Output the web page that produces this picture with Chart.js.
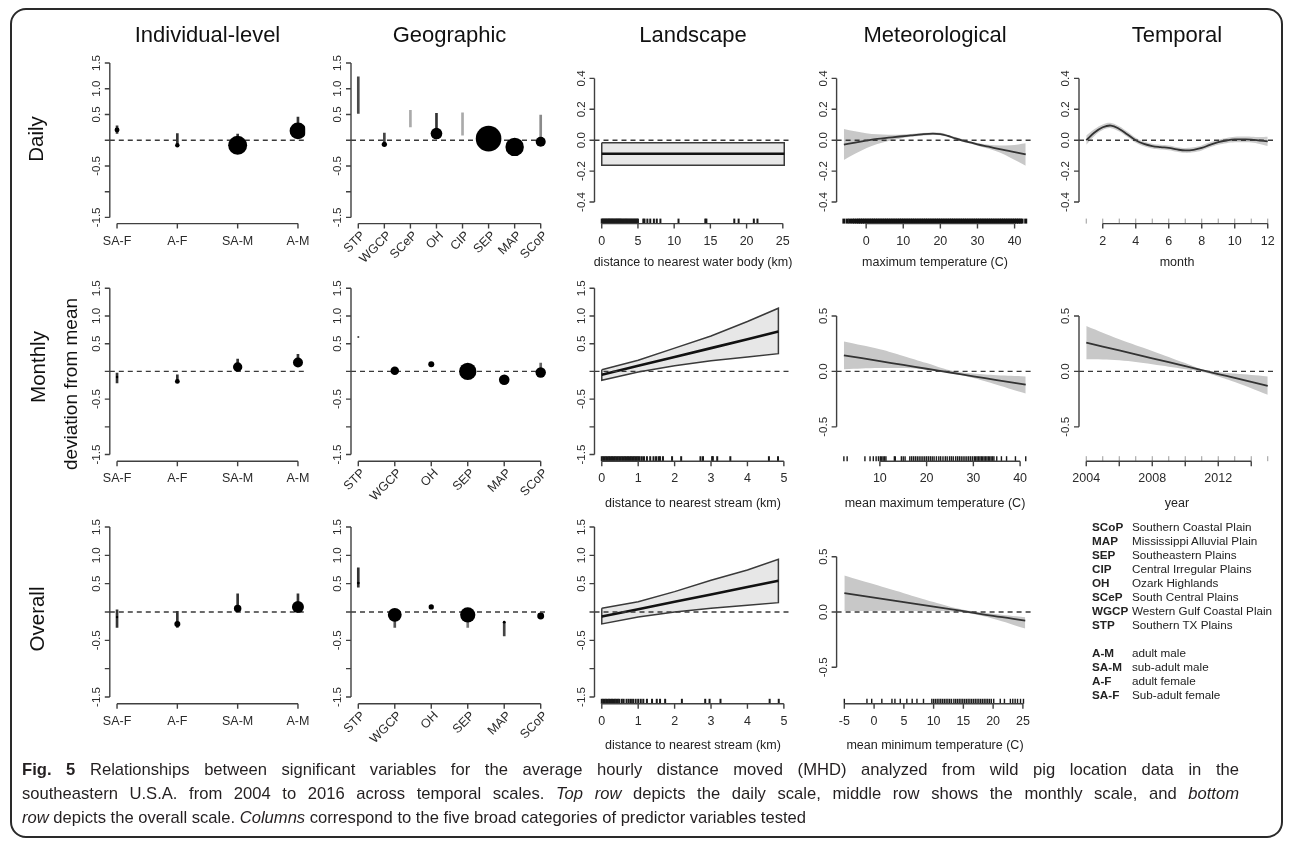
<!DOCTYPE html>
<html><head><meta charset="utf-8">
<script src="https://cdn.jsdelivr.net/npm/chart.js@4.4.0/dist/chart.umd.min.js"></script>
<style>
html,body{margin:0;padding:0;background:#fff;}
body{width:1292px;height:845px;position:relative;overflow:hidden;font-family:"Liberation Sans",Arial,Helvetica,sans-serif;color:#1a1a1a;}
#frame{position:absolute;left:10px;top:8px;width:1273px;height:830px;border:2px solid #2a2a2a;border-radius:16px;box-sizing:border-box;}
canvas{position:absolute;left:0;top:0;}
.ct{position:absolute;font-size:22px;transform:translate(-50%,-50%);white-space:nowrap;color:#111;}
.rl{position:absolute;font-size:20.5px;transform:translate(-50%,-50%) rotate(-90deg);white-space:nowrap;color:#111;}
.dl{position:absolute;font-size:19px;transform:translate(-50%,-50%) rotate(-90deg);white-space:nowrap;color:#111;}
.at{position:absolute;font-size:12.5px;transform:translate(-50%,-50%);white-space:nowrap;color:#222;}
#legend{position:absolute;left:1092px;top:519.7px;font-size:11.7px;line-height:14px;color:#222;}
#legend b{display:inline-block;width:40px;}
#caption{position:absolute;left:22px;top:758px;font-size:16.6px;line-height:24px;color:#231f20;}
#caption .j{width:1217px;text-align:justify;text-align-last:justify;white-space:normal;}
#caption .n{white-space:nowrap;}
</style></head><body>
<div id="frame"></div>
<div id="charts"></div>

<div class="ct" style="left:207.5px;top:35px">Individual-level</div>
<div class="ct" style="left:449.5px;top:35px">Geographic</div>
<div class="ct" style="left:693px;top:35px">Landscape</div>
<div class="ct" style="left:935px;top:35px">Meteorological</div>
<div class="ct" style="left:1177px;top:35px">Temporal</div>

<div class="rl" style="left:36px;top:139px">Daily</div>
<div class="rl" style="left:38px;top:367px">Monthly</div>
<div class="dl" style="left:71px;top:384px">deviation from mean</div>
<div class="rl" style="left:37px;top:619px">Overall</div>

<div class="at" style="left:693px;top:262px">distance to nearest water body (km)</div>
<div class="at" style="left:935px;top:262px">maximum temperature (C)</div>
<div class="at" style="left:1177px;top:262px">month</div>
<div class="at" style="left:693px;top:503px">distance to nearest stream (km)</div>
<div class="at" style="left:935px;top:503px">mean maximum temperature (C)</div>
<div class="at" style="left:1177px;top:503px">year</div>
<div class="at" style="left:693px;top:745px">distance to nearest stream (km)</div>
<div class="at" style="left:935px;top:745px">mean minimum temperature (C)</div>

<div id="legend">
<div><b>SCoP</b>Southern Coastal Plain</div>
<div><b>MAP</b>Mississippi Alluvial Plain</div>
<div><b>SEP</b>Southeastern Plains</div>
<div><b>CIP</b>Central Irregular Plains</div>
<div><b>OH</b>Ozark Highlands</div>
<div><b>SCeP</b>South Central Plains</div>
<div><b>WGCP</b>Western Gulf Coastal Plain</div>
<div><b>STP</b>Southern TX Plains</div>
<div style="height:14px"></div>
<div><b>A-M</b>adult male</div>
<div><b>SA-M</b>sub-adult male</div>
<div><b>A-F</b>adult female</div>
<div><b>SA-F</b>Sub-adult female</div>
</div>

<div id="caption">
<div class="j"><b>Fig. 5</b> Relationships between significant variables for the average hourly distance moved (MHD) analyzed from wild pig location data in the</div>
<div class="j">southeastern U.S.A. from 2004 to 2016 across temporal scales. <i>Top row</i> depicts the daily scale, middle row shows the monthly scale, and <i>bottom</i></div>
<div class="n"><i>row</i> depicts the overall scale. <i>Columns</i> correspond to the five broad categories of predictor variables tested</div>
</div>

<script>
// ================= DATA =================
// categories
const indivCats = ['SA-F', 'A-F', 'SA-M', 'A-M'];
const geoCatsDaily = ['STP', 'WGCP', 'SCeP', 'OH', 'CIP', 'SEP', 'MAP', 'SCoP'];
const geoCats = ['STP', 'WGCP', 'OH', 'SEP', 'MAP', 'SCoP'];

// tick values / labels
const catYTicks = [-1.5, -1.0, -0.5, 0, 0.5, 1.0, 1.5];
const catYLabels = ['-1.5', '', '-0.5', '', '0.5', '1.0', '1.5'];
const dailyYTicks = [-0.4, -0.2, 0, 0.2, 0.4];
const dailyYLabels = ['-0.4', '-0.2', '0.0', '0.2', '0.4'];
const halfYTicks = [-0.5, 0, 0.5];
const halfYLabels = ['-0.5', '0.0', '0.5'];
const waterTicks = [0, 5, 10, 15, 20, 25];
const streamTicks = [0, 1, 2, 3, 4, 5];
const maxTempTicks = [0, 10, 20, 30, 40];
const meanMaxTicks = [10, 20, 30, 40];
const meanMinTicks = [-5, 0, 5, 10, 15, 20, 25];
const monthTicks = [2, 4, 6, 8, 10, 12];
const yearTicks = [2004, 2006, 2008, 2010, 2012, 2014];
const yearLabels = ['2004', '', '2008', '', '2012', ''];

// Individual-level: estimate, CI low, CI high, weight (dot area)
const dIndEst = [0.20, -0.10, -0.10, 0.18];
const dIndLo  = [0.13, -0.10, -0.10, 0.18];
const dIndHi  = [0.28, 0.13, 0.12, 0.45];
const dIndW   = [6, 5, 90, 70];
const mIndEst = [-0.10, -0.18, 0.08, 0.16];
const mIndLo  = [-0.21, -0.18, 0.08, 0.16];
const mIndHi  = [-0.03, -0.06, 0.22, 0.31];
const mIndW   = [1.5, 6, 22, 25];
const oIndEst = [-0.09, -0.21, 0.06, 0.09];
const oIndLo  = [-0.27, -0.27, 0.06, 0.09];
const oIndHi  = [0.04, 0.01, 0.32, 0.32];
const oIndW   = [1.5, 9, 14, 36];

// Geographic
const dGeoEst = [null, -0.08, null, 0.13, null, 0.03, -0.13, -0.03];
const dGeoLo  = [0.52, -0.08, 0.26, 0.13, 0.10, 0.03, -0.13, -0.03];
const dGeoHi  = [1.23, 0.14, 0.58, 0.52, 0.53, 0.03, -0.13, 0.49];
const dGeoW   = [0, 7, 0, 34, 0, 164, 85, 25];
const mGeoEst = [0.62, 0.01, 0.13, 0.00, -0.15, -0.02];
const mGeoLo  = [0.62, 0.01, 0.13, 0.00, -0.15, -0.02];
const mGeoHi  = [0.62, 0.01, 0.13, 0.00, -0.15, 0.15];
const mGeoW   = [0.5, 18, 9, 75, 28, 27];
const oGeoEst = [0.51, -0.05, 0.09, -0.05, -0.18, -0.07];
const oGeoLo  = [0.44, -0.27, 0.09, -0.27, -0.42, -0.07];
const oGeoHi  = [0.78, -0.05, 0.09, -0.05, -0.18, -0.07];
const oGeoW   = [2, 48, 7, 58, 2, 12];

// Landscape
const waterX = [0, 25.2];
const waterFit = [-0.088, -0.088];
const waterUpper = [-0.017, -0.017];
const waterLower = [-0.163, -0.163];
const waterRug = [0, 0.12, 0.25, 0.37, 0.5, 0.62, 0.75, 0.88, 1.0, 1.12, 1.25, 1.38, 1.5, 1.62, 1.75, 1.88, 2.0, 2.12, 2.25, 2.38, 2.5, 2.62, 2.75, 2.9, 3.05, 3.2, 3.35, 3.5, 3.65, 3.8, 3.95, 4.1, 4.25, 4.4, 4.55, 4.7, 4.85, 5.0, 5.74, 5.9, 6.3, 6.7, 7.2, 7.6, 8.1, 10.6, 14.3, 14.45, 18.3, 18.9, 21.0, 21.5];

const streamX = [0, 1, 2, 3, 4, 4.85];
const mStreamFit = [-0.06, 0.10, 0.26, 0.42, 0.58, 0.72];
const mStreamUpper = [0.03, 0.20, 0.42, 0.64, 0.90, 1.14];
const mStreamLower = [-0.16, -0.01, 0.10, 0.19, 0.26, 0.32];
const mStreamRug = [0, 0.04, 0.08, 0.12, 0.16, 0.2, 0.24, 0.28, 0.32, 0.36, 0.4, 0.44, 0.48, 0.52, 0.56, 0.6, 0.64, 0.68, 0.72, 0.76, 0.8, 0.84, 0.88, 0.92, 0.96, 1.0, 1.04, 1.10, 1.16, 1.24, 1.33, 1.42, 1.49, 1.56, 1.60, 1.68, 1.93, 2.18, 2.71, 2.78, 3.03, 3.05, 3.17, 3.53, 4.59, 4.84];
const oStreamFit = [-0.08, 0.05, 0.18, 0.31, 0.44, 0.55];
const oStreamUpper = [0.065, 0.18, 0.36, 0.56, 0.74, 0.93];
const oStreamLower = [-0.21, -0.09, 0.0, 0.065, 0.12, 0.165];
const oStreamRug = [0, 0.04, 0.08, 0.12, 0.16, 0.2, 0.24, 0.28, 0.32, 0.36, 0.4, 0.44, 0.48, 0.55, 0.6, 0.68, 0.74, 0.8, 0.86, 0.93, 1.0, 1.07, 1.14, 1.24, 1.38, 1.51, 1.6, 1.74, 2.2, 2.84, 2.96, 3.26, 4.61, 4.86];

// Meteorological
const maxTempX = [-6, -3, 0, 3, 6, 9, 12, 15, 18, 20, 22, 24, 26, 28, 30, 33, 36, 39, 43];
const maxTempFit = [-0.028, -0.015, -0.003, 0.008, 0.016, 0.024, 0.031, 0.038, 0.042, 0.040, 0.028, 0.012, -0.002, -0.014, -0.027, -0.042, -0.058, -0.072, -0.092];
const maxTempUpper = [0.073, 0.058, 0.045, 0.038, 0.035, 0.036, 0.040, 0.047, 0.050, 0.048, 0.036, 0.020, 0.006, -0.006, -0.018, -0.030, -0.034, -0.033, -0.020];
const maxTempLower = [-0.128, -0.088, -0.052, -0.025, -0.005, 0.010, 0.022, 0.029, 0.034, 0.032, 0.020, 0.004, -0.010, -0.022, -0.036, -0.055, -0.080, -0.115, -0.165];
const maxTempRug = [-6, -5.1, -4.4, -3.7, -3.1, -2.5, -2, -1.5, -1, -0.5, 0, 0.5, 1, 1.5, 2, 2.5, 3, 3.5, 4, 4.5, 5, 5.5, 6, 6.5, 7, 7.5, 8, 8.5, 9, 9.5, 10, 10.5, 11, 11.5, 12, 12.5, 13, 13.5, 14, 14.5, 15, 15.5, 16, 16.5, 17, 17.5, 18, 18.5, 19, 19.5, 20, 20.5, 21, 21.5, 22, 22.5, 23, 23.5, 24, 24.5, 25, 25.5, 26, 26.5, 27, 27.5, 28, 28.5, 29, 29.5, 30, 30.5, 31, 31.5, 32, 32.5, 33, 33.5, 34, 34.5, 35, 35.5, 36, 36.5, 37, 37.5, 38, 38.5, 39, 39.5, 40, 40.5, 41, 41.5, 42, 43];

const meanMaxX = [2.3, 10, 15, 20, 25, 30, 35, 41.2];
const meanMaxFit = [0.145, 0.093, 0.058, 0.024, -0.010, -0.044, -0.078, -0.120];
const meanMaxUpper = [0.27, 0.20, 0.14, 0.075, 0.010, -0.020, -0.035, -0.045];
const meanMaxLower = [0.02, 0.03, 0.03, 0.015, -0.015, -0.060, -0.120, -0.200];
const meanMaxRug = [2.3, 3.0, 6.8, 7.9, 8.6, 9.2, 9.7, 10.1, 10.4, 10.7, 11.0, 11.3, 13.1, 13.3, 14.6, 15.0, 15.4, 16.4, 16.8, 17.2, 17.6, 18.0, 18.4, 18.8, 19.2, 19.6, 20.0, 20.4, 20.8, 21.2, 21.6, 22.1, 22.6, 23.0, 23.5, 24.0, 24.4, 24.9, 25.3, 25.7, 26.2, 26.6, 27.0, 27.4, 27.8, 28.2, 28.6, 29.0, 29.4, 29.8, 30.2, 30.5, 30.8, 31.1, 31.4, 31.7, 32.0, 32.3, 32.6, 32.9, 33.2, 33.5, 33.8, 34.1, 34.4, 35.0, 36.0, 37.1, 39.0, 41.2];

const meanMinX = [-5, 0, 5, 10, 15, 20, 25.4];
const meanMinFit = [0.17, 0.13, 0.09, 0.049, 0.008, -0.036, -0.077];
const meanMinUpper = [0.33, 0.25, 0.17, 0.09, 0.02, -0.015, -0.047];
const meanMinLower = [0.01, 0.01, 0.01, 0.008, -0.005, -0.06, -0.15];
const meanMinRug = [-5.0, -1.2, -0.4, 1.3, 3.0, 3.5, 4.4, 5.5, 6.4, 7.2, 8.3, 9.7, 10.0, 10.3, 10.6, 10.9, 11.2, 11.5, 11.8, 12.1, 12.4, 12.7, 13.0, 13.4, 13.7, 14.0, 14.3, 14.6, 14.9, 15.2, 15.5, 15.8, 16.1, 16.4, 16.7, 17.0, 17.3, 17.6, 17.9, 18.2, 18.5, 18.8, 19.1, 19.4, 19.7, 20.1, 21.2, 21.9, 22.9, 23.3, 23.7, 24.1, 24.6, 25.1];

// Temporal
const monthX = [1, 1.5, 2, 2.5, 3, 3.5, 4, 4.5, 5, 5.5, 6, 6.5, 7, 7.5, 8, 8.5, 9, 9.5, 10, 10.5, 11, 11.5, 12];
const monthFit = [0.0, 0.05, 0.084, 0.095, 0.073, 0.037, 0.0, -0.024, -0.038, -0.045, -0.05, -0.06, -0.066, -0.062, -0.05, -0.03, -0.013, -0.002, 0.005, 0.005, 0.004, -0.002, -0.008];
const monthUpper = [0.03, 0.072, 0.102, 0.112, 0.09, 0.054, 0.016, -0.009, -0.023, -0.03, -0.035, -0.045, -0.05, -0.046, -0.034, -0.014, 0.003, 0.015, 0.023, 0.024, 0.023, 0.02, 0.022];
const monthLower = [-0.03, 0.028, 0.066, 0.078, 0.056, 0.02, -0.016, -0.039, -0.053, -0.06, -0.065, -0.075, -0.082, -0.078, -0.066, -0.046, -0.029, -0.019, -0.013, -0.014, -0.015, -0.024, -0.038];
const monthRug = [1, 2, 3, 4, 5, 6, 7, 8, 9, 10, 11, 12];

const yearX = [2004, 2006, 2008, 2010, 2011, 2012, 2013, 2015];
const yearFit = [0.26, 0.189, 0.118, 0.047, 0.011, -0.024, -0.059, -0.13];
const yearUpper = [0.41, 0.29, 0.185, 0.075, 0.02, -0.005, -0.02, -0.045];
const yearLower = [0.11, 0.10, 0.065, 0.02, -0.003, -0.045, -0.095, -0.21];
const yearRug = [2004, 2005, 2006, 2007, 2008, 2009, 2010, 2011, 2012, 2013, 2014, 2015];

// ================= LAYOUT / STYLE =================
const W = 1292, H = 845;
const ROW = [{t: 56.8, b: 223.6}, {t: 281.6, b: 461.2}, {t: 520.2, b: 703.8}];
const COL = [{l: 109.8, r: 305.2}, {l: 351, r: 548}, {l: 594.5, r: 791.5}, {l: 836.6, r: 1033}, {l: 1079, r: 1275}];
const AXIS = '#404040', TXT = '#2a2a2a';
const FONT_Y = '11.5px "Liberation Sans", Arial, sans-serif';
const FONT_X = '12.5px "Liberation Sans", Arial, sans-serif';

function zeroLine(chart) {
  const {ctx, chartArea: a, scales: {y}} = chart;
  const p = y.getPixelForValue(0);
  ctx.save();
  ctx.strokeStyle = '#3a3a3a'; ctx.lineWidth = 1.4; ctx.setLineDash([5, 4]);
  ctx.beginPath(); ctx.moveTo(a.left, p); ctx.lineTo(a.right, p); ctx.stroke();
  ctx.restore();
}
function drawAxes(chart, o) {
  const {ctx, chartArea: a} = chart;
  const xs = chart.scales.x, ys = chart.scales.y;
  const T = 5;
  ctx.save();
  ctx.setLineDash([]);
  ctx.strokeStyle = AXIS; ctx.lineWidth = 1.4; ctx.fillStyle = TXT;
  const yT = Array.from(o.yTicks), yL = Array.from(o.yLabels);
  const yp = yT.map(v => ys.getPixelForValue(v));
  ctx.beginPath();
  ctx.moveTo(a.left, Math.min(...yp)); ctx.lineTo(a.left, Math.max(...yp));
  yp.forEach(p => { ctx.moveTo(a.left, p); ctx.lineTo(a.left - T, p); });
  ctx.stroke();
  ctx.font = FONT_Y; ctx.textAlign = 'center'; ctx.textBaseline = 'middle';
  yp.forEach((p, i) => {
    if (!yL[i]) return;
    ctx.save(); ctx.translate(a.left - 13, p); ctx.rotate(-Math.PI / 2); ctx.fillText(yL[i], 0, 0); ctx.restore();
  });
  const xT = Array.from(o.xTicks), xL = Array.from(o.xLabels);
  const xp = xT.map(v => xs.getPixelForValue(v));
  const yb = a.bottom;
  ctx.beginPath();
  ctx.moveTo(Math.min(...xp), yb); ctx.lineTo(Math.max(...xp), yb);
  xp.forEach(p => { ctx.moveTo(p, yb); ctx.lineTo(p, yb + T); });
  ctx.stroke();
  ctx.font = FONT_X;
  xp.forEach((p, i) => {
    if (!xL[i]) return;
    if (o.xRot) {
      ctx.save(); ctx.translate(p + 5, yb + 10); ctx.rotate(-Math.PI / 4);
      ctx.textAlign = 'right'; ctx.textBaseline = 'middle'; ctx.fillText(xL[i], 0, 0); ctx.restore();
    } else {
      ctx.textAlign = 'center'; ctx.textBaseline = 'middle'; ctx.fillText(xL[i], p, yb + 17.5);
    }
  });
  ctx.restore();
}
Chart.register({
  id: 'rAxes',
  beforeDatasetsDraw(chart, args, o) { if (o && o.zeroFirst) zeroLine(chart); },
  afterDatasetsDraw(chart, args, o) { if (!o || !o.yTicks) return; if (!o.zeroFirst) zeroLine(chart); drawAxes(chart, o); }
});

const xy = (xs, ys) => xs.map((x, i) => ({x, y: ys[i]}));
const poly = (xs, up, lo) => { const p = xy(xs, up).concat(xy(xs, lo).reverse()); p.push(p[0]); return p; };

function panel(row, col, xDom, yDom, datasets, ax) {
  const cv = document.createElement('canvas');
  cv.width = W; cv.height = H;
  document.getElementById('charts').appendChild(cv);
  const R = ROW[row], C = COL[col];
  return new Chart(cv, {
    type: 'scatter',
    data: {datasets},
    options: {
      responsive: false, animation: false, events: [],
      layout: {padding: {left: C.l, top: R.t, right: W - C.r, bottom: H - R.b}},
      scales: {
        x: {type: 'linear', display: false, min: xDom[0], max: xDom[1], offset: false, grid: {offset: false}},
        y: {type: 'linear', display: false, min: yDom[0], max: yDom[1]}
      },
      plugins: {legend: {display: false}, tooltip: {enabled: false}, rAxes: ax}
    }
  });
}

function catSets(cats, est, lo, hi, w, barColors) {
  return [
    {type: 'scatter', data: cats.map((c, i) => ({x: i + 1, y: est[i]})),
     pointRadius: w.map(v => Math.sqrt(v)), pointHoverRadius: w.map(v => Math.sqrt(v)),
     pointBackgroundColor: '#000', pointBorderWidth: 0, order: 0, clip: 0},
    {type: 'bar', data: cats.map((c, i) => ({x: i + 1, y: [lo[i], hi[i]]})),
     backgroundColor: barColors, barThickness: 2, grouped: false, order: 1}
  ];
}
const catAx = (cats, rot) => ({zeroFirst: true, yTicks: catYTicks, yLabels: catYLabels,
  xTicks: cats.map((c, i) => i + 1), xLabels: cats, xRot: !!rot});

function rugSet(vals, yMin, color, width) {
  return {type: 'scatter', data: vals.map(v => ({x: v, y: yMin})), pointStyle: 'dash', pointRotation: -90,
    pointRadius: 5, pointHoverRadius: 5, pointBorderColor: color, pointBorderWidth: width,
    pointBackgroundColor: 'rgba(0,0,0,0)', clip: false, order: 0};
}
function polySets(xs, fit, up, lo, rug, yMin) {
  return [
    {type: 'line', data: poly(xs, up, lo), fill: 'shape', backgroundColor: '#e7e7e7',
     borderColor: '#3a3a3a', borderWidth: 1.5, pointRadius: 0, tension: 0, order: 2},
    {type: 'line', data: xy(xs, fit), borderColor: '#111', borderWidth: 2.6, pointRadius: 0, fill: false, order: 1},
    rugSet(rug, yMin, '#1a1a1a', 2)
  ];
}
function bandSets(xs, fit, up, lo, band, mono) {
  const interp = mono ? 'monotone' : 'default';
  return [
    {type: 'line', data: xy(xs, up), fill: '+1', backgroundColor: band, borderColor: 'rgba(0,0,0,0)',
     borderWidth: 1, pointRadius: 0, tension: 0.4, cubicInterpolationMode: interp, order: 3},
    {type: 'line', data: xy(xs, lo), fill: false, borderColor: 'rgba(0,0,0,0)',
     borderWidth: 1, pointRadius: 0, tension: 0.4, cubicInterpolationMode: interp, order: 2},
    {type: 'line', data: xy(xs, fit), borderColor: '#333', borderWidth: 1.8, pointRadius: 0, fill: false,
     tension: 0.4, cubicInterpolationMode: interp, order: 1}
  ];
}
const contAx = (yT, yL, xT, xL) => ({zeroFirst: false, yTicks: yT, yLabels: yL, xTicks: xT, xLabels: xL || xT.map(String), xRot: false});

const CAT_Y = [-1.62, 1.62];
const IND_X = [0.88, 4.12];
const GEO8_X = [0.72, 8.28];
const GEO6_X = [0.8, 6.2];
const indivBar = ['#333', '#333', '#333', '#333'];

// ---- Row 1: Daily ----
panel(0, 0, IND_X, CAT_Y, catSets(indivCats, dIndEst, dIndLo, dIndHi, dIndW, indivBar), catAx(indivCats));
panel(0, 1, GEO8_X, CAT_Y, catSets(geoCatsDaily, dGeoEst, dGeoLo, dGeoHi, dGeoW,
  ['#4a4a4a', '#444', '#aaa', '#333', '#aaa', '#333', '#333', '#8a8a8a']), catAx(geoCatsDaily, true));
const D_Y = [-0.54, 0.54];
panel(0, 2, [-1.0, 26.2], D_Y, polySets(waterX, waterFit, waterUpper, waterLower, waterRug, D_Y[0]),
  contAx(dailyYTicks, dailyYLabels, waterTicks));
panel(0, 3, [-7.96, 44.96], D_Y,
  bandSets(maxTempX, maxTempFit, maxTempUpper, maxTempLower, '#c8c8c8', true).concat([rugSet(maxTempRug, D_Y[0], '#111', 3)]),
  contAx(dailyYTicks, dailyYLabels, maxTempTicks));
panel(0, 4, [0.56, 12.44], D_Y,
  bandSets(monthX, monthFit, monthUpper, monthLower, '#cdcdcd', false).concat([rugSet(monthRug, D_Y[0], '#9a9a9a', 1)]),
  contAx(dailyYTicks, dailyYLabels, monthTicks));

// ---- Row 2: Monthly ----
panel(1, 0, IND_X, CAT_Y, catSets(indivCats, mIndEst, mIndLo, mIndHi, mIndW, indivBar), catAx(indivCats));
panel(1, 1, GEO6_X, CAT_Y, catSets(geoCats, mGeoEst, mGeoLo, mGeoHi, mGeoW,
  ['#333', '#333', '#333', '#333', '#333', '#666']), catAx(geoCats, true));
panel(1, 2, [-0.2, 5.21], CAT_Y, polySets(streamX, mStreamFit, mStreamUpper, mStreamLower, mStreamRug, CAT_Y[0]),
  contAx(catYTicks, catYLabels, streamTicks));
const M_Y = [-0.81, 0.81];
panel(1, 3, [0.744, 42.756], M_Y,
  bandSets(meanMaxX, meanMaxFit, meanMaxUpper, meanMaxLower, '#c8c8c8', false).concat([rugSet(meanMaxRug, M_Y[0], '#1a1a1a', 1.4)]),
  contAx(halfYTicks, halfYLabels, meanMaxTicks));
panel(1, 4, [2003.56, 2015.44], M_Y,
  bandSets(yearX, yearFit, yearUpper, yearLower, '#c8c8c8', false).concat([rugSet(yearRug, M_Y[0], '#9a9a9a', 1)]),
  contAx(halfYTicks, halfYLabels, yearTicks, yearLabels));

// ---- Row 3: Overall ----
panel(2, 0, IND_X, CAT_Y, catSets(indivCats, oIndEst, oIndLo, oIndHi, oIndW, indivBar), catAx(indivCats));
panel(2, 1, GEO6_X, CAT_Y, catSets(geoCats, oGeoEst, oGeoLo, oGeoHi, oGeoW,
  ['#333', '#555', '#333', '#777', '#444', '#333']), catAx(geoCats, true));
panel(2, 2, [-0.2, 5.21], CAT_Y, polySets(streamX, oStreamFit, oStreamUpper, oStreamLower, oStreamRug, CAT_Y[0]),
  contAx(catYTicks, catYLabels, streamTicks));
const O_Y = [-0.83, 0.83];
panel(2, 3, [-6.3, 26.7], O_Y,
  bandSets(meanMinX, meanMinFit, meanMinUpper, meanMinLower, '#c8c8c8', false).concat([rugSet(meanMinRug, O_Y[0], '#1a1a1a', 1.4)]),
  contAx(halfYTicks, halfYLabels, meanMinTicks));
</script>
</body></html>
